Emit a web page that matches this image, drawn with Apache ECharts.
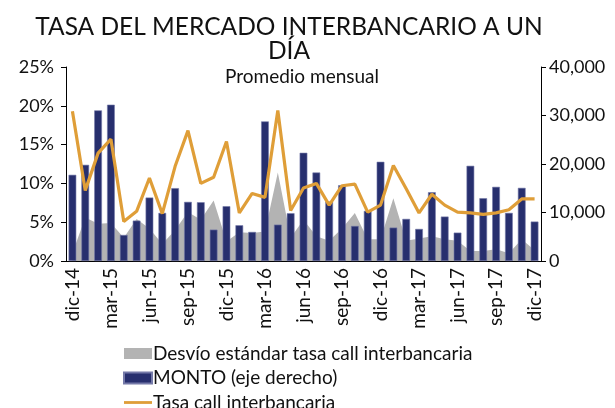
<!DOCTYPE html>
<html>
<head>
<meta charset="utf-8">
<script src="https://cdn.jsdelivr.net/npm/echarts@6/dist/echarts.min.js"></script>
<style>
  html, body { margin: 0; padding: 0; background: #fff; }
  #chart { width: 615px; height: 408px; }
</style>
</head>
<body>
<div id="chart"></div>
<script>
const months = [
    'dic-14', 'ene-15', 'feb-15', 'mar-15', 'abr-15', 'may-15', 'jun-15', 'jul-15', 'ago-15', 'sep-15', 'oct-15', 'nov-15',
    'dic-15', 'ene-16', 'feb-16', 'mar-16', 'abr-16', 'may-16', 'jun-16', 'jul-16', 'ago-16', 'sep-16', 'oct-16', 'nov-16',
    'dic-16', 'ene-17', 'feb-17', 'mar-17', 'abr-17', 'may-17', 'jun-17', 'jul-17', 'ago-17', 'sep-17', 'oct-17', 'nov-17',
    'dic-17'
];
// desvío estándar (%)
const desvio = [
    1.0, 5.6, 4.8, 4.9, 3.0, 5.4, 4.2, 2.2, 4.0, 6.3, 5.3, 7.8,
    2.5, 3.7, 3.6, 3.8, 11.4, 3.0, 5.3, 3.2, 2.6, 4.2, 6.2, 2.8,
    2.8, 8.1, 2.6, 2.9, 3.2, 2.8, 2.6, 1.3, 1.3, 1.5, 1.0, 2.8,
    1.4
];
// monto (eje derecho)
const monto = [
    17770, 19830, 31060, 32230, 5370, 8330, 13080, 9920, 15020, 12190, 12120, 6470,
    11300, 7370, 5990, 28780, 7500, 9850, 22310, 18250, 12260, 15630, 7230, 10330,
    20450, 6890, 8680, 6610, 14190, 9160, 5850, 19630, 12950, 15290, 9920, 15080,
    8130
];
// tasa call interbancaria (%)
const tasa = [
    19.3, 9.1, 13.9, 15.7, 5.1, 6.4, 10.7, 6.1, 12.2, 16.8, 10.0, 10.8,
    15.4, 6.2, 8.7, 8.2, 19.4, 6.5, 9.4, 10.0, 7.2, 9.7, 9.9, 6.3,
    7.2, 12.3, 9.3, 6.2, 8.6, 7.2, 6.3, 6.2, 6.0, 6.2, 6.6, 8.0,
    8.0
];
const leftTicks = [0, 5, 10, 15, 20, 25];
const rightTicks = [0, 10000, 20000, 30000, 40000];

const font = 'Lato';
const textColor = '#111';

let myChart = echarts.init(document.getElementById('chart'), null, { renderer: 'canvas' });

let option = {
    animation: false,
    textStyle: { fontFamily: font },
    title: [{
        text: 'TASA DEL MERCADO INTERBANCARIO A UN\nDÍA',
        left: 284,
        top: 10,
        textAlign: 'center',
        textStyle: {
            fontFamily: font,
            fontSize: 24.5,
            fontWeight: 'normal',
            color: textColor,
            lineHeight: 24,
        },
    }, {
        text: 'Promedio mensual',
        left: 297,
        top: 62,
        textAlign: 'center',
        textStyle: {
            fontFamily: font,
            fontSize: 19,
            fontWeight: 'normal',
            color: textColor,
        },
    }],
    legend: {
        orient: 'vertical',
        left: 118,
        top: 339,
        height: 90,
        itemWidth: 28,
        itemHeight: 11,
        itemGap: 5.5,
        textStyle: {
            fontFamily: font,
            fontSize: 19,
            lineHeight: 18,
            color: textColor,
            padding: [0, 0, 0, -4],
        },
        data: [
            { name: 'Desvío estándar tasa call interbancaria', icon: 'rect' },
            { name: 'MONTO (eje derecho)', icon: 'rect' },
            {
                name: 'Tasa call interbancaria',
                icon: 'path://M0,0 H30 V3 H0 Z',
                itemStyle: { color: '#df9e38' },
            },
        ],
    },
    grid: {
        left: 66,
        right: 74,
        top: 67,
        bottom: 147,
    },
    xAxis: {
        type: 'category',
        data: months,
        boundaryGap: true,
        axisLine: { lineStyle: { color: '#000', width: 1 } },
        axisTick: { interval: 2, length: 5, lineStyle: { color: '#000' } },
        axisLabel: {
            interval: 2,
            rotate: 90,
            fontFamily: font,
            fontSize: 19,
            color: textColor,
            margin: 7,
        },
    },
    yAxis: [{
        type: 'value',
        min: leftTicks[0],
        max: leftTicks[leftTicks.length - 1],
        interval: 5,
        axisLine: { show: true, lineStyle: { color: '#000' } },
        axisTick: { show: true, length: 5, lineStyle: { color: '#000' } },
        splitLine: { show: false },
        axisLabel: {
            formatter: '{value}%',
            fontFamily: font,
            fontSize: 18,
            color: textColor,
            margin: 12,
        },
    }, {
        type: 'value',
        position: 'right',
        min: rightTicks[0],
        max: rightTicks[rightTicks.length - 1],
        interval: 10000,
        axisLine: { show: true, lineStyle: { color: '#000' } },
        axisTick: { show: true, length: 5, lineStyle: { color: '#000' } },
        splitLine: { show: false },
        axisLabel: {
            formatter: function (v) {
                return v.toLocaleString('en-US');
            },
            fontFamily: font,
            fontSize: 18,
            color: textColor,
            margin: 8,
        },
    }],
    series: [{
        name: 'Desvío estándar tasa call interbancaria',
        type: 'line',
        yAxisIndex: 0,
        data: desvio,
        symbol: 'none',
        lineStyle: { width: 0 },
        itemStyle: { color: '#b3b3b3' },
        areaStyle: { color: '#b3b3b3', opacity: 1 },
        z: 1,
    }, {
        name: 'MONTO (eje derecho)',
        type: 'bar',
        yAxisIndex: 1,
        data: monto,
        barWidth: '60%',
        itemStyle: {
            color: '#272f6e',
            borderColor: '#7479a8',
            borderWidth: 0.6,
        },
        z: 2,
    }, {
        name: 'Tasa call interbancaria',
        type: 'line',
        yAxisIndex: 0,
        data: tasa,
        symbol: 'none',
        lineStyle: { color: '#df9e38', width: 3.2 },
        itemStyle: { color: '#df9e38' },
        z: 3,
    }],
};

myChart.setOption(option);
</script>
</body>
</html>
